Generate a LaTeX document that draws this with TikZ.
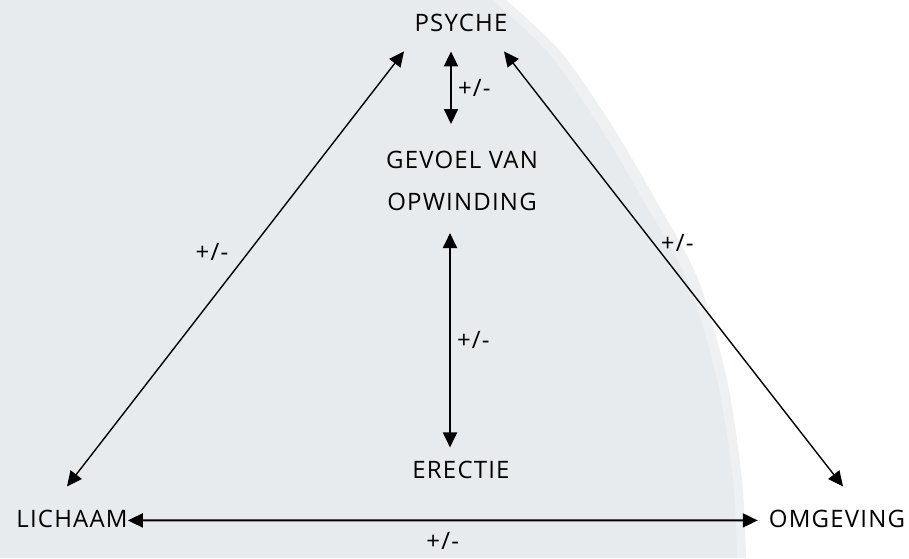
\documentclass[tikz,border=0pt]{standalone}
\usepackage{fontspec}
\setmainfont{Open Sans}[LetterSpace=5]
\usepackage{tikz}
\usetikzlibrary{arrows.meta}
\definecolor{panelgray}{HTML}{E8EBEE}
\definecolor{edgegray}{HTML}{EFF0F1}

\begin{document}
\begin{tikzpicture}[
    x=1pt, y=-1pt,
    lbl/.style={inner sep=0pt, font=\fontsize{24}{42}\selectfont, align=center},
    pm/.style={inner sep=0pt, font=\fontsize{24}{26}\selectfont},
    link/.style={{Triangle[length=15pt,width=14pt]}-{Triangle[length=15pt,width=14pt]}, line width=1.4pt},
    thicklink/.style={link, line width=2pt}
]
\useasboundingbox (0,0) rectangle (909,558);
% Background
\fill[edgegray] plot[smooth] coordinates {(506,0) (561,52) (611,124) (654,197) (698,279) (727,380) (742,480) (746,558)}
    -- (0,558) -- (0,0) -- cycle;
\fill[panelgray] plot[smooth] coordinates {(493,0) (550,55) (600,127) (643,200) (687,280) (717,380) (733,480) (737,558)}
    -- (0,558) -- (0,0) -- cycle;

% Nodes
\node[lbl, anchor=base] (psyche) at (461,31) {PSYCHE};
\node[lbl, anchor=north] (opw) at (462,151) {GEVOEL VAN\\OPWINDING};
\node[lbl, anchor=base] (erectie) at (461,478) {ERECTIE};
\node[lbl, anchor=base] (lichaam) at (72,527) {LICHAAM};
\node[lbl, anchor=base] (omgeving) at (837,527) {OMGEVING};

% Arrows
\draw[link] ([shift={(-5,-23)}]lichaam.north) -- ([shift={(-57,20)}]psyche.south)
    node[pm, pos=0.54, left=20pt] (pmlinks) {+/-};
\draw[link] ([shift={(43,20)}]psyche.south) -- ([shift={(6,-23)}]omgeving.north)
    node[pm, pos=0.44, right=7pt] (pmrechts) {+/-};
\draw[thicklink] ([shift={(-10,20)}]psyche.south) -- ([shift={(-11,-27)}]opw.north)
    node[pm, midway, right=6pt] (pmboven) {+/-};
\draw[thicklink] ([shift={(-12,22)}]opw.south) -- ([shift={(-11,-13)}]erectie.north)
    node[pm, midway, right=6pt] (pmmidden) {+/-};
\draw[thicklink] ([shift={(0,2)}]lichaam.east) -- ([shift={(-11,2)}]omgeving.west)
    node[pm, pos=0.5, below=11pt] (pmonder) {+/-};
\end{tikzpicture}
\end{document}
